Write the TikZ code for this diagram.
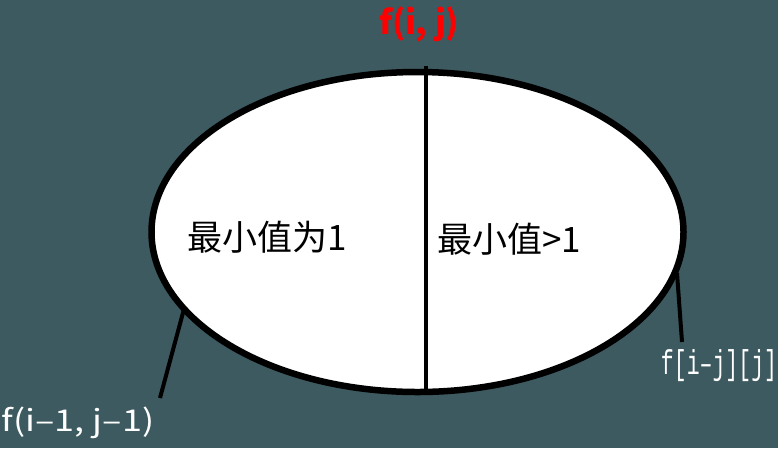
\documentclass[tikz,border=0pt]{standalone}
\usepackage{fontspec}
\setmainfont{Noto Sans CJK SC}
\newfontfamily\labelmono{Liberation Mono}
\usetikzlibrary{shapes.geometric}
\definecolor{slate}{HTML}{3D5A60}
\definecolor{titlered}{HTML}{FF0000}
\begin{document}
\begin{tikzpicture}[x=1pt,y=-1pt,
  oval/.style={ellipse,draw=black,fill=white,line width=6.5pt,minimum width=532pt,minimum height=320pt,inner sep=0pt},
  inside/.style={inner sep=0pt,font=\fontsize{35}{37}\selectfont},
  outside/.style={inner sep=0pt,text=white,font=\fontsize{30}{32}\selectfont\addfontfeature{FakeStretch=1.2}},
  stick/.style={line width=4pt}]
\fill[slate] (0,0) rectangle (778,448);
\useasboundingbox (0,0) rectangle (778,448);
\node[oval] (set) at (417.5,232) {};
\coordinate (top) at (426,66);
\coordinate (bot) at (426,392);
\draw[line width=3.5pt] (top) -- (bot);
\node[inner sep=0pt,text=titlered,font=\bfseries\fontsize{33}{35}\selectfont] (fij) at (419,24) {f(i, j)};
\node[inside] (one) at (267,237) {最小值为1};
\node[inside] (more) at (509,239) {最小值>1};
% labels outside the set
\coordinate (l0) at (184,309);
\coordinate (l1) at (160,398);
\node[outside] (fdiag) at (78,423) {f(i–1, j–1)};
\draw[stick] (l0) -- (l1);
\coordinate (r0) at (677,273);
\coordinate (r1) at (682,342);
\node[inner sep=0pt,text=white] (fcol) at (719,366) {\scalebox{1}[1.6]{\labelmono\fontsize{21.5}{23}\selectfont f[i–j][j]}};
\draw[stick] (r0) -- (r1);
\end{tikzpicture}
\end{document}
